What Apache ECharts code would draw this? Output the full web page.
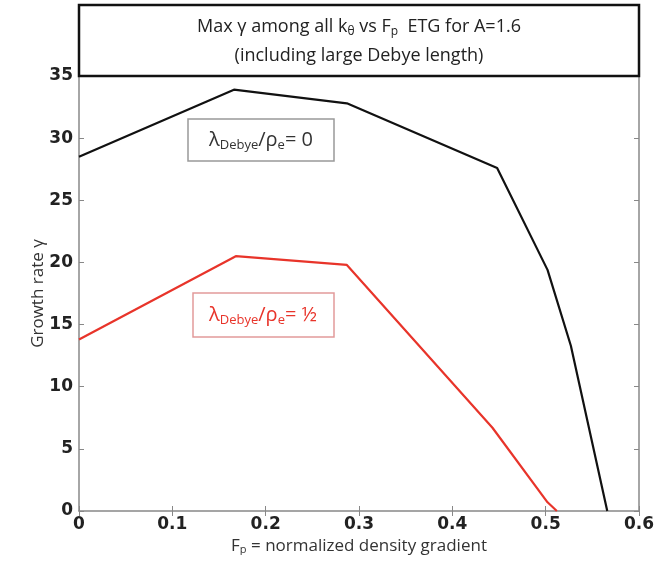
<!DOCTYPE html>
<html>
<head>
<meta charset="utf-8">
<script src="https://cdn.jsdelivr.net/npm/echarts@6/dist/echarts.min.js"></script>
<style>html,body{margin:0;padding:0;background:#fff}#c{width:665px;height:561px}</style>
</head>
<body>
<div id="c"></div>
<script>
const blackX = [0, 0.166, 0.287, 0.448, 0.502, 0.527, 0.566];
const blackY = [28.5, 33.9, 32.8, 27.6, 19.4, 13.3, 0];
const redX = [0, 0.168, 0.287, 0.443, 0.502, 0.512];
const redY = [13.8, 20.5, 19.8, 6.7, 0.7, 0];
const xTicks = [0, 0.1, 0.2, 0.3, 0.4, 0.5, 0.6];
const yTicks = [0, 5, 10, 15, 20, 25, 30, 35];

const chart = echarts.init(document.getElementById('c'));
const zip = (xs, ys) => xs.map((x, i) => [x, ys[i]]);
const tickFont = {fontFamily: 'DejaVu Sans', fontWeight: 'bold', fontSize: 17, color: '#222'};
const frameLine = {show: true, onZero: false, lineStyle: {color: '#888', width: 1.5}};
const tick = {show: true, inside: true, length: 5, lineStyle: {color: '#888'}};
chart.setOption({
  animation: false,
  backgroundColor: '#fff',
  grid: {left: 79, right: 26, top: 76, bottom: 50},
  xAxis: [{
    type: 'value', min: 0, max: 0.6, interval: 0.1,
    axisLine: frameLine, axisTick: tick, splitLine: {show: false},
    axisLabel: Object.assign({margin: 5, formatter: v => String(Math.round(v*10)/10)}, tickFont),
    name: 'F\u209A = normalized density gradient',
    nameLocation: 'middle', nameGap: 27, nameMoveOverlap: false,
    nameTextStyle: {fontFamily: 'Open Sans', fontSize: 17, color: '#333'}
  }, {
    type: 'value', position: 'top', min: 0, max: 0.6, interval: 0.1,
    axisLine: {show: false}, axisTick: tick,
    axisLabel: {show: false}, splitLine: {show: false}
  }],
  yAxis: [{
    type: 'value', min: 0, max: 35, interval: 5,
    axisLine: frameLine, axisTick: tick, splitLine: {show: false},
    axisLabel: Object.assign({margin: 6}, tickFont),
    name: 'Growth rate \u03B3',
    nameLocation: 'middle', nameGap: 32, nameMoveOverlap: false,
    nameTextStyle: {fontFamily: 'Open Sans', fontSize: 17, color: '#333'}
  }, {
    type: 'value', position: 'right', min: 0, max: 35, interval: 5,
    axisLine: frameLine, axisTick: tick,
    axisLabel: {show: false}, splitLine: {show: false}
  }],
  series: [
    {type: 'line', data: zip(blackX, blackY), symbol: 'none', lineStyle: {color: '#111', width: 2.2}, z: 3},
    {type: 'line', data: zip(redX, redY), symbol: 'none', lineStyle: {color: '#e8342a', width: 2.2}, z: 3}
  ],
  graphic: [
    {type: 'rect', shape: {x: 79, y: 5, width: 560, height: 71}, style: {fill: '#fff', stroke: '#111', lineWidth: 2.5}, z: 10},
    {type: 'text', x: 359, y: 27, z: 11, style: {text: 'Max \u03B3 among all k{s|\u03B8} vs F{s|p}  ETG for A=1.6', rich: {s: {fontSize: 12, fontFamily: 'Open Sans', padding: [10, 0, 0, 0], fill: '#222'}}, font: '18px "Open Sans"', fill: '#222', align: 'center', verticalAlign: 'middle'}},
    {type: 'text', x: 359, y: 56, z: 11, style: {text: '(including large Debye length)', font: '18px "Open Sans"', fill: '#222', align: 'center', verticalAlign: 'middle'}},
    {type: 'rect', shape: {x: 188, y: 119, width: 146, height: 42}, style: {fill: '#fff', stroke: '#999', lineWidth: 1.5}, z: 10},
    {type: 'text', x: 261, y: 140, z: 11, style: {text: '\u03BB{s|Debye}/\u03C1{s|e}= 0', rich: {s: {fontSize: 13, fontFamily: 'Open Sans', fill: '#333', padding: [10, 0, 0, 0]}}, font: '20px "Open Sans"', fill: '#333', align: 'center', verticalAlign: 'middle'}},
    {type: 'rect', shape: {x: 193, y: 293, width: 141, height: 44}, style: {fill: '#fff', stroke: '#e29a9a', lineWidth: 1.5}, z: 10},
    {type: 'text', x: 263, y: 315, z: 11, style: {text: '\u03BB{s|Debye}/\u03C1{s|e}= \u00BD', rich: {s: {fontSize: 13, fontFamily: 'Open Sans', fill: '#e8342a', padding: [10, 0, 0, 0]}}, font: '20px "Open Sans"', fill: '#e8342a', align: 'center', verticalAlign: 'middle'}}
  ]
});
</script>
</body>
</html>
